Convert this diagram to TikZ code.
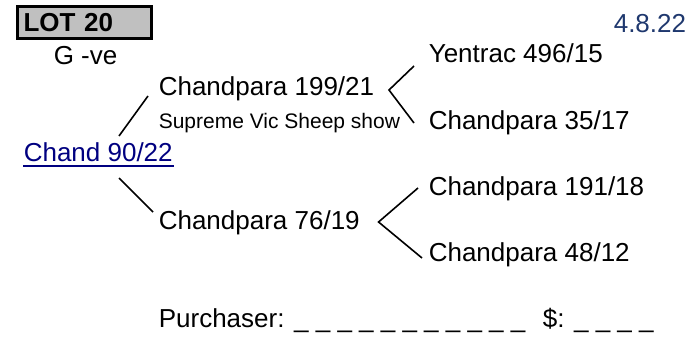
\documentclass[tikz,border=0pt]{standalone}
\usepackage{fontspec}
\setmainfont{Liberation Sans}
\usepackage{tikz}
\usetikzlibrary{calc}
\definecolor{linkblue}{RGB}{0,0,128}
\definecolor{dateblue}{RGB}{31,56,110}
\definecolor{lotgrey}{RGB}{192,192,192}

\begin{document}
\begin{tikzpicture}[x=1pt, y=-1pt, line width=1.6pt,
        every node/.style={inner sep=0pt, anchor=base west, font=\fontsize{26}{31}\selectfont},
        small/.style={font=\fontsize{21}{25}\selectfont},
        lotbox/.style={draw, line width=3pt, fill=lotgrey, anchor=center, minimum width=134pt, minimum height=32pt,
            text width=122pt, inner xsep=6pt, align=left, font=\fontsize{26}{31}\selectfont\bfseries}]
        \useasboundingbox (0,0) rectangle (698,339);

        \node[lotbox] (lot) at (84.5,22.5) {LOT 20};
        \node (gve) at (53,65) {G -ve};
        \node[text=dateblue] (date) at (613,33) {4.8.22};

        \node[text=linkblue] (root) at (23,162) {Chand 90/22};
        \node (sire) at (158,96) {Chandpara 199/21};
        \node[small] (show) at (158,129) {Supreme Vic Sheep show};
        \node (dam) at (158,229) {Chandpara 76/19};
        \node (ss) at (428,63) {Yentrac 496/15};
        \node (sd) at (428,130) {Chandpara 35/17};
        \node (ds) at (428,196) {Chandpara 191/18};
        \node (dd) at (428,261) {Chandpara 48/12};

        \node (buyer) at (158,327) {Purchaser: \_ \_ \_ \_ \_ \_ \_ \_ \_ \_ \_};
        \node (price) at (542,327) {\$: \_ \_ \_ \_};

        \draw[linkblue, line width=1.8pt] ($(root.base west)+(0,4)$) -- ($(root.base east)+(0,4)$);

        \draw ($(root.base west)+(96,-26)$) -- ($(sire.base west)+(-10,0)$);
        \draw ($(root.base west)+(96,16)$) -- ($(dam.base west)+(-5,-17)$);

        \coordinate (fork1) at ($(sire.base east)+(14,-6)$);
        \coordinate (fork2) at ($(dam.base east)+(18,-7)$);
        \draw ($(ss.base west)+(-14,3)$) -- (fork1) -- ($(sd.base west)+(-14,-7)$);
        \draw ($(ds.base west)+(-10,-8)$) -- (fork2) -- ($(dd.base west)+(-6,-3)$);
    \end{tikzpicture}
\end{document}
